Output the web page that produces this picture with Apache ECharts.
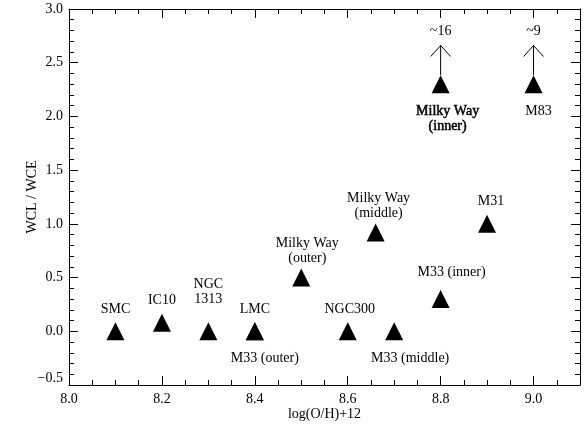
<!DOCTYPE html>
<html>
<head>
<meta charset="utf-8">
<script src="https://cdn.jsdelivr.net/npm/echarts@6/dist/echarts.min.js"></script>
<style>
  html, body { margin: 0; padding: 0; background: #fff; }
  #chart { width: 585px; height: 426px; }
</style>
</head>
<body>
<div id="chart"></div>
<script>
// Galaxies: metallicity vs WCL/WCE ratio
const galaxies = ['SMC', 'IC10', 'NGC 1313', 'LMC', 'M33 (outer)', 'Milky Way (outer)', 'NGC300',
                  'Milky Way (middle)', 'M33 (middle)', 'M33 (inner)', 'M31', 'Milky Way (inner)', 'M83'];
const displayNames = ['SMC', 'IC10', 'NGC\n1313', 'LMC', 'M33 (outer)', 'Milky Way\n(outer)', 'NGC300',
                      'Milky Way\n(middle)', 'M33 (middle)', 'M33 (inner)', 'M31', 'Milky Way\n(inner)', 'M83'];
const logOH = [8.1, 8.2, 8.3, 8.4, 8.4, 8.5, 8.6, 8.66, 8.7, 8.8, 8.9, 8.8, 9.0];
const wclWce = [0.0, 0.08, 0.0, 0.0, 0.0, 0.5, 0.0, 0.92, 0.0, 0.3, 1.0, 2.3, 2.3];

// Off-scale ratios: drawn as upward arrows with the true value noted
const offScaleGalaxies = ['Milky Way (inner)', 'M83'];
const offScaleNotes = ['~16', '~9'];
const arrowTipY = [2.66, 2.66];

// Axis ranges and tick steps
const xRange = [8.0, 9.1];
const xMajorStep = 0.2;
const xMinorStep = 0.05;
const yRange = [-0.5, 3.0];
const yMajorStep = 0.5;
const yMinorStep = 0.1;

const FONT = 'Liberation Serif';
const FS = 14;

// Label placement per galaxy (position, gap to marker, sideways shift)
const labelLayout = {
  'SMC':               { pos: 'top',    dist: 5,  dx: 0 },
  'IC10':              { pos: 'top',    dist: 6,  dx: 0 },
  'NGC 1313':          { pos: 'top',    dist: 15, dx: 0 },
  'LMC':               { pos: 'top',    dist: 5,  dx: 0 },
  'M33 (outer)':       { pos: 'bottom', dist: 11, dx: 10 },
  'Milky Way (outer)': { pos: 'top',    dist: 3,  dx: 6 },
  'NGC300':            { pos: 'top',    dist: 5,  dx: 2 },
  'Milky Way (middle)':{ pos: 'top',    dist: 3,  dx: 3 },
  'M33 (middle)':      { pos: 'bottom', dist: 11, dx: 16 },
  'M33 (inner)':       { pos: 'top',    dist: 10, dx: 11 },
  'M31':               { pos: 'top',    dist: 6,  dx: 4 },
  'Milky Way (inner)': { pos: 'bottom', dist: 11, dx: 7, heavy: true },
  'M83':               { pos: 'bottom', dist: 11, dx: 5 }
};

const pointData = galaxies.map((g, i) => {
  const lay = labelLayout[g];
  return {
    name: g,
    value: [logOH[i], wclWce[i]],
    label: {
      show: true,
      formatter: displayNames[i],
      position: lay.pos,
      distance: lay.dist,
      offset: [lay.dx, 0],
      fontFamily: FONT,
      fontSize: FS,
      lineHeight: 15,
      color: '#000',
      align: 'center',
      textBorderColor: lay.heavy ? '#000' : 'transparent',
      textBorderWidth: lay.heavy ? 0.5 : 0
    }
  };
});

const arrowData = offScaleGalaxies.map((g, i) => {
  const k = galaxies.indexOf(g);
  return [logOH[k], wclWce[k], arrowTipY[i], offScaleNotes[i]];
});

const fmtY = v => v.toFixed(1).replace('-', '\u2212');
const fmtX = v => v.toFixed(1);

const labelStyle = { fontFamily: FONT, fontSize: FS, color: '#000' };

// Frame side carrying the tick labels and axis title (ticks come from companion axes)
function labelAxis(kind, position, range, step, fmt, margin, name, nameGap, extraLabel) {
  const a = {
    type: 'value', position: position, min: range[0], max: range[1], interval: step,
    axisLine: { show: true, onZero: false, lineStyle: { color: '#000', width: 1 } },
    axisTick: { show: false },
    axisLabel: Object.assign({ margin: margin, formatter: fmt }, labelStyle, extraLabel || {}),
    splitLine: { show: false },
    name: name, nameLocation: 'middle', nameGap: nameGap, nameMoveOverlap: false,
    nameTextStyle: labelStyle
  };
  if (kind === 'y') a.nameRotate = 90;
  return a;
}

// Tick-only axis: inward ticks at the given step, optional frame line
function tickAxis(position, range, step, len, withLine) {
  return {
    type: 'value', position: position, min: range[0], max: range[1], interval: step,
    axisLine: { show: !!withLine, onZero: false, lineStyle: { color: '#000', width: 1 } },
    axisTick: { show: true, inside: true, length: len, lineStyle: { color: '#000', width: 1 } },
    axisLabel: { show: false },
    splitLine: { show: false }
  };
}

const option = {
  animation: false,
  grid: { left: 69, right: 5, top: 9, bottom: 40 },
  xAxis: [
    labelAxis('x', 'bottom', xRange, xMajorStep, fmtX, 7, 'log(O/H)+12', 22, { showMaxLabel: false }),
    tickAxis('bottom', xRange, xMajorStep, 9, false),
    tickAxis('bottom', xRange, xMinorStep, 5, false),
    tickAxis('top', xRange, xMajorStep, 9, true),
    tickAxis('top', xRange, xMinorStep, 5, false)
  ],
  yAxis: [
    labelAxis('y', 'left', yRange, yMajorStep, fmtY, 6, 'WCL / WCE', 30, { verticalAlignMinLabel: 'bottom' }),
    tickAxis('left', yRange, yMajorStep, 9, false),
    tickAxis('left', yRange, yMinorStep, 5, false),
    tickAxis('right', yRange, yMajorStep, 9, true),
    tickAxis('right', yRange, yMinorStep, 5, false)
  ],
  series: [
    {
      type: 'scatter',
      xAxisIndex: 0, yAxisIndex: 0,
      symbol: 'triangle',
      symbolSize: 18,
      itemStyle: { color: '#000', opacity: 1 },
      data: pointData,
      z: 3
    },
    {
      type: 'custom',
      xAxisIndex: 0, yAxisIndex: 0,
      data: arrowData,
      clip: false,
      renderItem: function (params, api) {
        const base = api.coord([api.value(0), api.value(1)]);
        const tip = api.coord([api.value(0), api.value(2)]);
        const note = arrowData[params.dataIndex][3];
        const x = base[0];
        const stroke = { stroke: '#000', lineWidth: 1, fill: null };
        return {
          type: 'group',
          children: [
            { type: 'line', shape: { x1: x, y1: base[1] - 9, x2: x, y2: tip[1] }, style: stroke },
            { type: 'polyline', shape: { points: [[x - 10, tip[1] + 11], [x, tip[1]], [x + 10, tip[1] + 11]] }, style: stroke },
            {
              type: 'text',
              style: {
                x: x, y: tip[1] - 7, text: note, fill: '#000',
                font: FS + 'px "' + FONT + '"', textAlign: 'center', textVerticalAlign: 'bottom'
              }
            }
          ]
        };
      },
      z: 2
    }
  ]
};

const chart = echarts.init(document.getElementById('chart'), null, { renderer: 'canvas' });
chart.setOption(option);
</script>
</body>
</html>
